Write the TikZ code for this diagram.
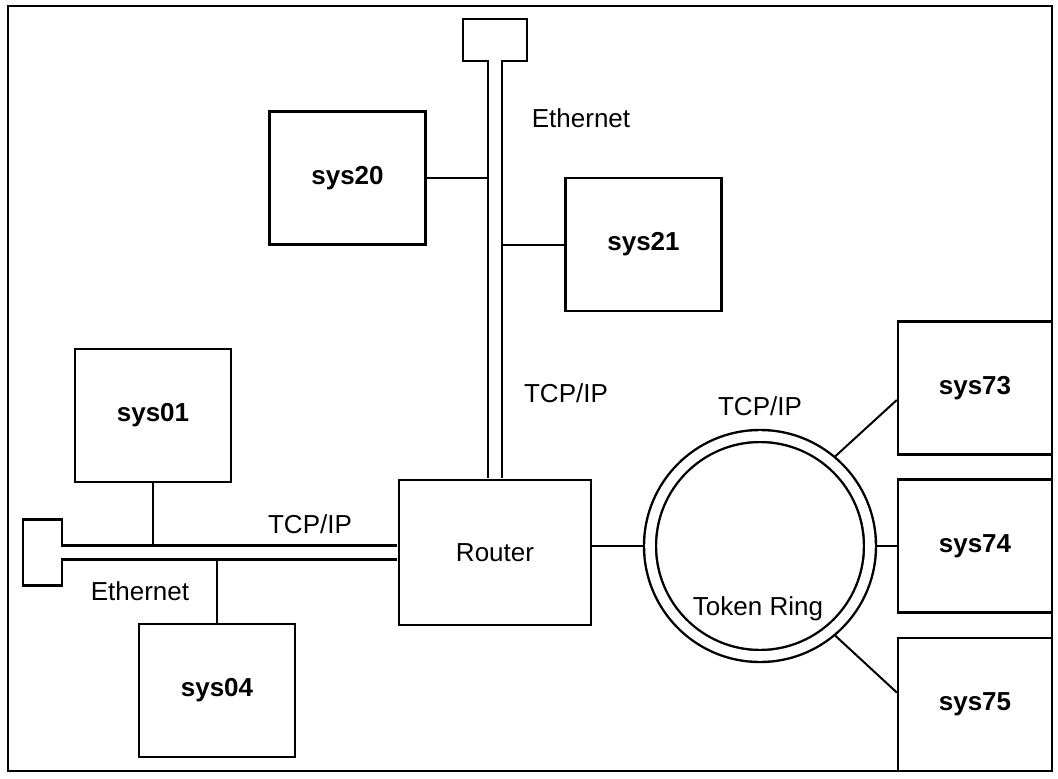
\documentclass[tikz,border=0pt]{standalone}
\usepackage{fontspec}
\setmainfont{Liberation Sans}
\begin{document}
\begin{tikzpicture}[
                x=1pt,y=-1pt,
                lanFrame/.style={draw=black,line width=2.6pt},
                lanHost/.style={draw=black,line width=2.4pt,rectangle,inner sep=0pt,
                                minimum width=156pt,minimum height=133pt,
                                font=\fontsize{26}{30}\selectfont\bfseries},
                lanRouter/.style={draw=black,line width=2.4pt,rectangle,inner sep=0pt,
                                  minimum width=192pt,minimum height=145pt,
                                  font=\fontsize{26}{30}\selectfont},
                lanTap/.style={draw=black,line width=2.4pt,rectangle,inner sep=0pt},
                lanRing/.style={circle,draw=black,line width=2.4pt,double=white,
                                double distance=9.6pt,minimum size=220pt,
                                inner sep=0pt,outer sep=7pt},
                lanBus/.style={draw=black,line width=2.4pt,double=white,
                               double distance=11.6pt},
                lanLink/.style={draw=black,line width=2pt},
                lanLabel/.style={anchor=base,inner sep=0pt,
                                 font=\fontsize{26}{30}\selectfont}]
                \useasboundingbox (0,0) rectangle (1058,779);
                \draw[lanFrame] (8,6) rectangle (1052,771);

                % Hosts, router and the two bus terminators.
                \node[lanHost] (sys20) at (347.5,178) {sys20};
                \node[lanHost] (sys21) at (643.5,244.5) {sys21};
                \node[lanHost] (sys01) at (153,415.5) {sys01};
                \node[lanHost] (sys04) at (217,690.5) {sys04};
                \node[lanRouter] (router) at (495,552.5) {Router};
                \node[lanHost,minimum width=154pt] (sys73) at (975,388) {sys73};
                \node[lanHost,minimum width=154pt] (sys74) at (975,546) {sys74};
                \node[lanHost,minimum width=154pt] (sys75) at (975,704.5) {sys75};
                \node[lanTap,minimum width=64pt,minimum height=42pt] (tapTop) at (495,40) {};
                \node[lanTap,minimum width=39pt,minimum height=66pt] (tapLeft) at (42.5,552.5) {};

                % Ethernet buses: open into the terminators, closed at the router.
                \draw[lanBus,shorten <=-1.8pt,shorten >=1.2pt] (tapTop) -- (router);
                \draw[lanBus,shorten <=-1.8pt,shorten >=1.2pt] (tapLeft) -- (router);
                \coordinate (vBusL) at (488,0);
                \coordinate (vBusR) at (502,0);
                \coordinate (hBusT) at (0,545.5);
                \coordinate (hBusB) at (0,559.5);
                \draw[lanLink] (sys20.east) -- (sys20.east -| vBusL);
                \draw[lanLink] (sys21.west) -- (sys21.west -| vBusR);
                \draw[lanLink] (sys01.south) -- (sys01.south |- hBusT);
                \draw[lanLink] (sys04.north) -- (sys04.north |- hBusB);

                % Token ring and its stations.
                \node[lanRing] (ring) at (760,546) {};
                \draw[lanLink] (ring.west -| router.east) -- (ring.west);
                \draw[lanLink] (ring.50) -- ([yshift=-12pt]sys73.west);
                \draw[lanLink] (ring.east) -- (sys74.west);
                \draw[lanLink] (ring.-50) -- ([yshift=12pt]sys75.west);

                % Labels.
                \node[lanLabel] (ethTop) at (581,127) {Ethernet};
                \node[lanLabel] (tcpTop) at (566,402) {TCP/IP};
                \node[lanLabel] (ethLeft) at (140,600) {Ethernet};
                \node[lanLabel] (tcpLeft) at (310,533) {TCP/IP};
                \node[lanLabel] (tcpRing) at (760,415) {TCP/IP};
                \node[lanLabel] (tokRing) at (758,615) {Token Ring};
            \end{tikzpicture}
\end{document}
